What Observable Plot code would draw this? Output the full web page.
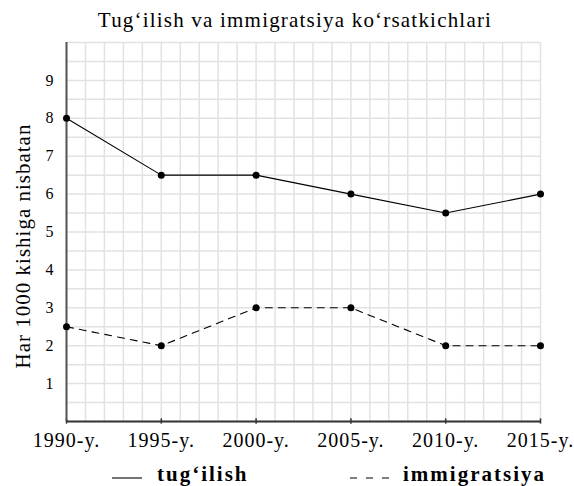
<!DOCTYPE html>
<html><head><meta charset="utf-8">
<script src="https://cdn.jsdelivr.net/npm/d3@7"></script>
<script src="https://cdn.jsdelivr.net/npm/@observablehq/plot@0.6"></script>
<style>
body{margin:0;background:#fff;font-family:"Liberation Serif",serif;color:#000;}
#wrap{width:574px;height:486px;position:relative;overflow:hidden;}
#title{height:24px;padding-top:10px;line-height:1;font-size:21px;letter-spacing:1.2px;text-align:center;padding-left:16px;width:558px;white-space:nowrap;}
#legend{position:relative;height:31px;font-weight:bold;font-size:21px;letter-spacing:2px;line-height:1;}
#legend span{position:absolute;top:9px;white-space:nowrap;}
#legend svg{position:absolute;top:20px;}
</style></head>
<body><div id="wrap">
<div id="title"></div>
<div id="chart"></div>
<div id="legend"></div>
</div>
<script>
const titleText = "Tug‘ilish va immigratsiya ko‘rsatkichlari";
const yLabel = "Har 1000 kishiga nisbatan";
const years = [1990, 1995, 2000, 2005, 2010, 2015];
const tickLabels = ["1990-y.", "1995-y.", "2000-y.", "2005-y.", "2010-y.", "2015-y."];
const seriesNames = ["tug‘ilish", "immigratsiya"];
const birthValues = [8, 6.5, 6.5, 6, 5.5, 6];
const immigrationValues = [2.5, 2, 3, 3, 2, 2];
const yTicks = [1, 2, 3, 4, 5, 6, 7, 8, 9];

document.getElementById("title").textContent = titleText;

const birth = years.map((y, i) => ({year: y, value: birthValues[i]}));
const immig = years.map((y, i) => ({year: y, value: immigrationValues[i]}));
const gridXs = d3.range(years[0], years[years.length - 1] + 1, 1);
const gridYs = d3.range(0, 10.001, 0.5);

const chart = Plot.plot({
  width: 574,
  height: 421,
  marginLeft: 66,
  marginRight: 34,
  marginTop: 8,
  marginBottom: 34,
  style: {fontFamily: "'Liberation Serif', serif", color: "#000", background: "#fff", letterSpacing: "1px"},
  x: {domain: [1990, 2015]},
  y: {domain: [0, 10]},
  marks: [
    Plot.gridX(gridXs, {stroke: "#e2e2e2", strokeOpacity: 1, strokeWidth: 1.5}),
    Plot.gridY(gridYs, {stroke: "#e2e2e2", strokeOpacity: 1, strokeWidth: 1.5}),
    Plot.axisX(years, {tickSize: 0, tickPadding: 11, fontSize: 20, tickFormat: (d) => tickLabels[years.indexOf(d)], label: null}),
    Plot.axisY(yTicks, {tickSize: 0, tickPadding: 12, fontSize: 16, label: null}),
    Plot.ruleX(years, {y1: -0.07, y2: 0.07, stroke: "#333", strokeWidth: 1.5}),
    Plot.ruleX([1990], {y1: 0, y2: 10, stroke: "#555", strokeWidth: 2}),
    Plot.ruleY([0], {x1: 1990, x2: 2015, stroke: "#333", strokeWidth: 2}),
    Plot.line(birth, {x: "year", y: "value", stroke: "#000", strokeWidth: 1.1}),
    Plot.line(immig, {x: "year", y: "value", stroke: "#000", strokeWidth: 1.1, strokeDasharray: "7,6"}),
    Plot.dot(birth, {x: "year", y: "value", r: 3.5, fill: "#000", stroke: "none"}),
    Plot.dot(immig, {x: "year", y: "value", r: 3.5, fill: "#000", stroke: "none"}),
    Plot.text([yLabel], {frameAnchor: "left", rotate: -90, dx: -43, dy: 14, fontSize: 21, lineAnchor: "middle", textAnchor: "middle"})
  ]
});
document.getElementById("chart").appendChild(chart);

const legend = document.getElementById("legend");
legend.innerHTML =
  `<svg width="32" height="6" style="left:111px"><line x1="1" x2="31" y1="3" y2="3" stroke="#000" stroke-width="1.1"/></svg>` +
  `<span style="left:157px">${seriesNames[0]}</span>` +
  `<svg width="42" height="6" style="left:349px"><line x1="1" x2="41" y1="3" y2="3" stroke="#000" stroke-width="1.1" stroke-dasharray="7,9"/></svg>` +
  `<span style="left:403px">${seriesNames[1]}</span>`;
</script>
</body></html>
